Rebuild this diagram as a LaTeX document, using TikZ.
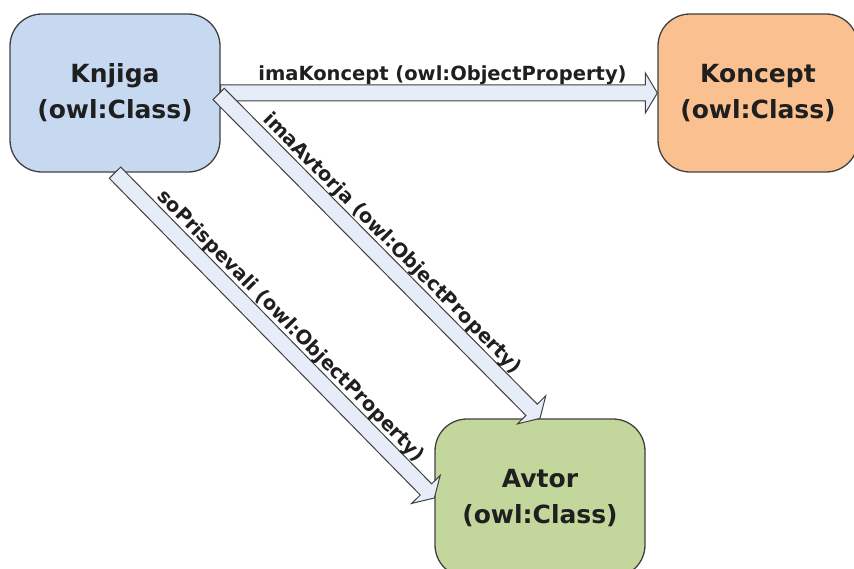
\documentclass[tikz,border=0pt]{standalone}
\usepackage{fontspec}
\setmainfont{DejaVu Sans}
\usetikzlibrary{calc}
\definecolor{knjigafill}{HTML}{C6D9F1}
\definecolor{konceptfill}{HTML}{FAC090}
\definecolor{avtorfill}{HTML}{C3D69B}
\definecolor{arrfill}{HTML}{E6ECF8}
\definecolor{edgegray}{HTML}{404040}
\newcommand{\blockarr}[3]{%
  \coordinate (#3-c) at ($(#2)!12pt!(#1)$);
  \draw[blockarrow] ($(#1)!8pt!90:(#2)$) -- ($(#3-c)!8pt!90:(#2)$) -- ($(#3-c)!20pt!90:(#2)$)
    -- (#2) -- ($(#3-c)!20pt!-90:(#2)$) -- ($(#3-c)!8pt!-90:(#2)$) -- ($(#1)!8pt!-90:(#2)$) -- cycle;}
\begin{document}
\begin{tikzpicture}[x=1pt,y=-1pt,
  classbox/.style={draw=edgegray, line width=1.3pt, rounded corners=32pt,
    minimum width=210pt, minimum height=158pt, align=center, inner sep=0pt,
    font=\fontsize{25}{36}\selectfont\bfseries, text=black!88},
  blockarrow/.style={draw=edgegray, line width=1pt, fill=arrfill, line join=miter},
  edgelabel/.style={font=\fontsize{19.5}{22}\selectfont\bfseries, text=black!88, inner sep=1pt}]
\useasboundingbox (0,0) rectangle (854,569);
\node[classbox, fill=knjigafill] (knjiga) at (115,93) {Knjiga\\(owl:Class)};
\node[classbox, fill=konceptfill, minimum width=200pt] (koncept) at (758,93) {Koncept\\(owl:Class)};
\node[classbox, fill=avtorfill] (avtor) at (540,498) {Avtor\\(owl:Class)};
\coordinate (s1) at ($(knjiga.east)+(-2,1)$);
\blockarr{knjiga.east}{koncept.west}{a1}
\blockarr{s1}{avtor.north}{a2}
\blockarr{knjiga.south}{avtor.west}{a3}
\path (knjiga.east) -- (koncept.west) node[edgelabel, pos=0.508, above=7pt] (l1) {imaKoncept (owl:ObjectProperty)};
\path (s1) -- (avtor.north) node[edgelabel, pos=0.5, sloped, above=7pt] (l2) {imaAvtorja (owl:ObjectProperty)};
\path (knjiga.south) -- (avtor.west) node[edgelabel, pos=0.51, sloped, above=7pt] (l3) {soPrispevali (owl:ObjectProperty)};
\end{tikzpicture}
\end{document}
